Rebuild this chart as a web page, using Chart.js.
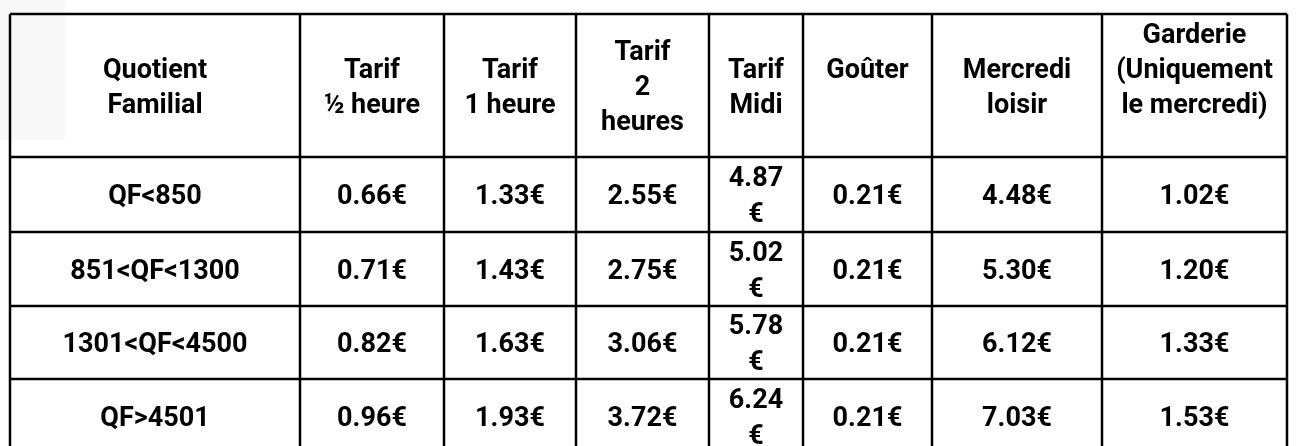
<!DOCTYPE html>
<html lang="fr">
<head>
<meta charset="utf-8">
<title>Tarifs périscolaires</title>
<script src="https://cdn.jsdelivr.net/npm/chart.js@4/dist/chart.umd.min.js"></script>
<style>
    html, body {
        margin: 0;
        padding: 0;
        background: #ffffff;
        overflow: hidden;
    }
    .wrap {
        position: relative;
        width: 1299px;
        height: 446px;
        overflow: hidden;
    }
    .scan {
        position: absolute;
        left: 0;
        top: 0;
        width: 65px;
        height: 140px;
        background: #f8f8f8;
    }
    canvas {
        position: absolute;
        left: 0;
        top: 0;
    }
</style>
</head>
<body>
<div class="wrap">
    <div class="scan"></div>
    <canvas id="tarifsTable" width="1299" height="470"></canvas>
</div>
<script>
// column headers (\n = line break, trailing \n = empty paragraph in the cell)
const headers = [
    'Quotient\nFamilial',
    'Tarif\n½ heure',
    'Tarif\n1 heure',
    'Tarif\n2\nheures',
    'Tarif\nMidi',
    'Goûter\n',
    'Mercredi\nloisir',
    'Garderie\n(Uniquement\nle mercredi)\n',
];

const quotients = ['QF<850', '851<QF<1300', '1301<QF<4500', 'QF>4501'];

const tarifDemiHeure = [0.66, 0.71, 0.82, 0.96];
const tarifUneHeure = [1.33, 1.43, 1.63, 1.93];
const tarifDeuxHeures = [2.55, 2.75, 3.06, 3.72];
const tarifMidi = [4.87, 5.02, 5.78, 6.24];
const gouter = [0.21, 0.21, 0.21, 0.21];
const mercrediLoisir = [4.48, 5.30, 6.12, 7.03];
const garderie = [1.02, 1.20, 1.33, 1.53];

const series = [tarifDemiHeure, tarifUneHeure, tarifDeuxHeures, tarifMidi, gouter, mercrediLoisir, garderie];

// layout: column widths and row heights in scale units
const colWidths = [290, 144, 132, 133, 94, 129, 170, 185];
const rowHeights = [143, 75, 74, 73, 74];
const narrowCols = [4]; // the "Tarif Midi" column is too narrow, the € wraps

const FONT = 'bold 27px Roboto, sans-serif';

const edges = (sizes) => sizes.reduce((acc, s) => [...acc, acc[acc.length - 1] + s], [0]);
const colEdges = edges(colWidths);
const rowEdges = edges(rowHeights);

const euro = (v) => `${v.toFixed(2)}€`;

const tablePlugin = {
    id: 'tablePlugin',
    afterDraw(chart) {
        const { ctx, scales: { x, y } } = chart;
        const px = (v) => x.getPixelForValue(v);
        const py = (v) => y.getPixelForValue(v);

        ctx.save();
        ctx.strokeStyle = '#000000';
        ctx.lineWidth = 2.5;
        ctx.beginPath();
        colEdges.forEach((e) => {
            ctx.moveTo(px(e), py(0));
            ctx.lineTo(px(e), py(rowEdges[rowEdges.length - 1]));
        });
        rowEdges.forEach((e) => {
            ctx.moveTo(px(0), py(e));
            ctx.lineTo(px(colEdges[colEdges.length - 1]), py(e));
        });
        ctx.stroke();

        ctx.fillStyle = '#000000';
        ctx.font = FONT;
        ctx.textAlign = 'center';
        ctx.textBaseline = 'alphabetic';

        const drawCell = (text, col, row, lineH) => {
            const lines = text.split('\n');
            const cx = (px(colEdges[col]) + px(colEdges[col + 1])) / 2;
            const cy = (py(rowEdges[row]) + py(rowEdges[row + 1])) / 2;
            lines.forEach((line, i) => {
                const ly = cy + (i - (lines.length - 1) / 2) * lineH + 9.5;
                ctx.fillText(line, cx, ly);
            });
        };

        headers.forEach((h, c) => drawCell(h, c, 0, 35));

        quotients.forEach((q, r) => {
            drawCell(q, 0, r + 1, 36);
            series.forEach((values, s) => {
                let text = euro(values[r]);
                if (narrowCols.includes(s + 1)) {
                    text = text.replace('€', '\n€');
                }
                drawCell(text, s + 1, r + 1, 36);
            });
        });

        ctx.restore();
    },
};

const canvas = document.getElementById('tarifsTable');
const totalW = colEdges[colEdges.length - 1];
const totalH = rowEdges[rowEdges.length - 1];

new Chart(canvas, {
    type: 'scatter',
    data: {
        datasets: [],
    },
    options: {
        responsive: false,
        animation: false,
        devicePixelRatio: 1,
        layout: {
            padding: {
                left: 10,
                top: 14,
                right: 1299 - 10 - totalW,
                bottom: 470 - 14 - totalH,
            },
        },
        plugins: {
            legend: { display: false },
            tooltip: { enabled: false },
        },
        scales: {
            x: {
                type: 'linear',
                min: 0,
                max: totalW,
                display: false,
            },
            y: {
                type: 'linear',
                min: 0,
                max: totalH,
                reverse: true,
                display: false,
            },
        },
    },
    plugins: [tablePlugin],
});
</script>
</body>
</html>
